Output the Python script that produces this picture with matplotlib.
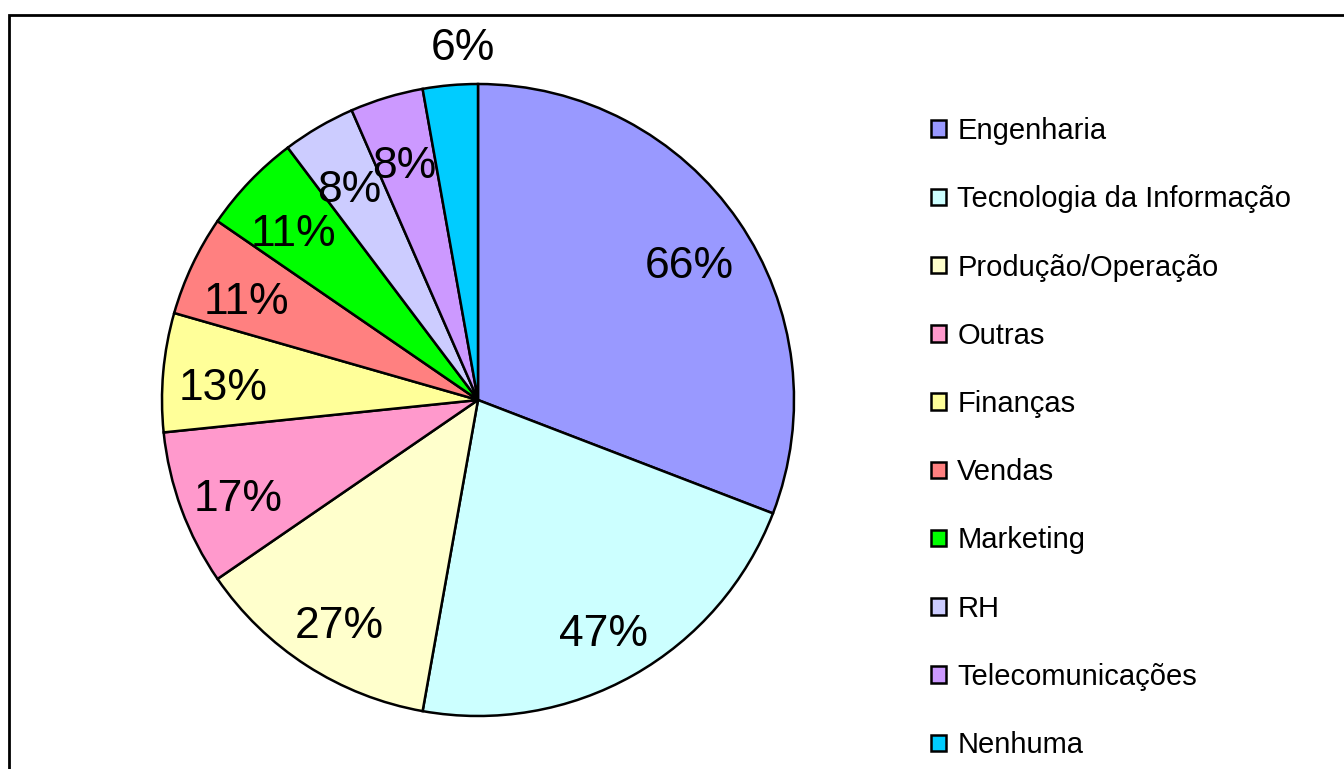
import matplotlib.pyplot as plt
from matplotlib.patches import Rectangle
import numpy as np

categorias = ['Engenharia', 'Tecnologia da Informação', 'Produção/Operação', 'Outras',
              'Finanças', 'Vendas', 'Marketing', 'RH', 'Telecomunicações', 'Nenhuma']
valores = [66, 47, 27, 17, 13, 11, 11, 8, 8, 6]
cores = ['#9999FF', '#CCFFFF', '#FFFFCC', '#FF99CC', '#FFFF99',
         '#FF8080', '#00FF00', '#CCCCFF', '#CC99FF', '#00CCFF']

plt.rcParams['font.family'] = ['Liberation Sans', 'DejaVu Sans']

W, H = 1344, 769
fig = plt.figure(figsize=(W / 100, H / 100), dpi=100)

# borda do grafico (so esquerda e topo aparecem)
fig.patches.append(Rectangle((9 / W, -0.05), 1.2, 1 - 15 / H + 0.05, transform=fig.transFigure,
                             fill=False, edgecolor='black', linewidth=2))

cx, cy, r = 478, 400, 316
ax = fig.add_axes([(cx - r) / W, (H - cy - r) / H, 2 * r / W, 2 * r / H])

wedges, _ = ax.pie(valores, colors=cores, startangle=90, counterclock=False,
                   wedgeprops=dict(edgecolor='black', linewidth=1.8))
ax.set_xlim(-1, 1)
ax.set_ylim(-1, 1)
ax.set_aspect('equal')
for w in wedges:
    w.set_clip_on(False)

for w, v in zip(wedges, valores):
    ang = np.deg2rad((w.theta1 + w.theta2) / 2)
    if v == 6:
        # rotulo pequeno fica fora da pizza
        xy, off = (1.13 * np.cos(ang), 1.13 * np.sin(ang)), (12, 0)
    else:
        xy, off = (0.81 * np.cos(ang), 0.81 * np.sin(ang)), (0, -5)
    ax.annotate(f'{v}%', xy, xytext=off, textcoords='offset points',
                ha='center', va='center_baseline', fontsize=32, annotation_clip=False)

leg = fig.legend(wedges, categorias, loc='upper left', bbox_to_anchor=(931 / W, 1 - 117 / H),
                 frameon=False, fontsize=21, handlelength=0.5, handleheight=0.5,
                 handletextpad=0.4, labelspacing=1.38, borderaxespad=0, borderpad=0)
for h in leg.legend_handles:
    h.set_linewidth(1.8)

plt.savefig('out.png', dpi=100)
